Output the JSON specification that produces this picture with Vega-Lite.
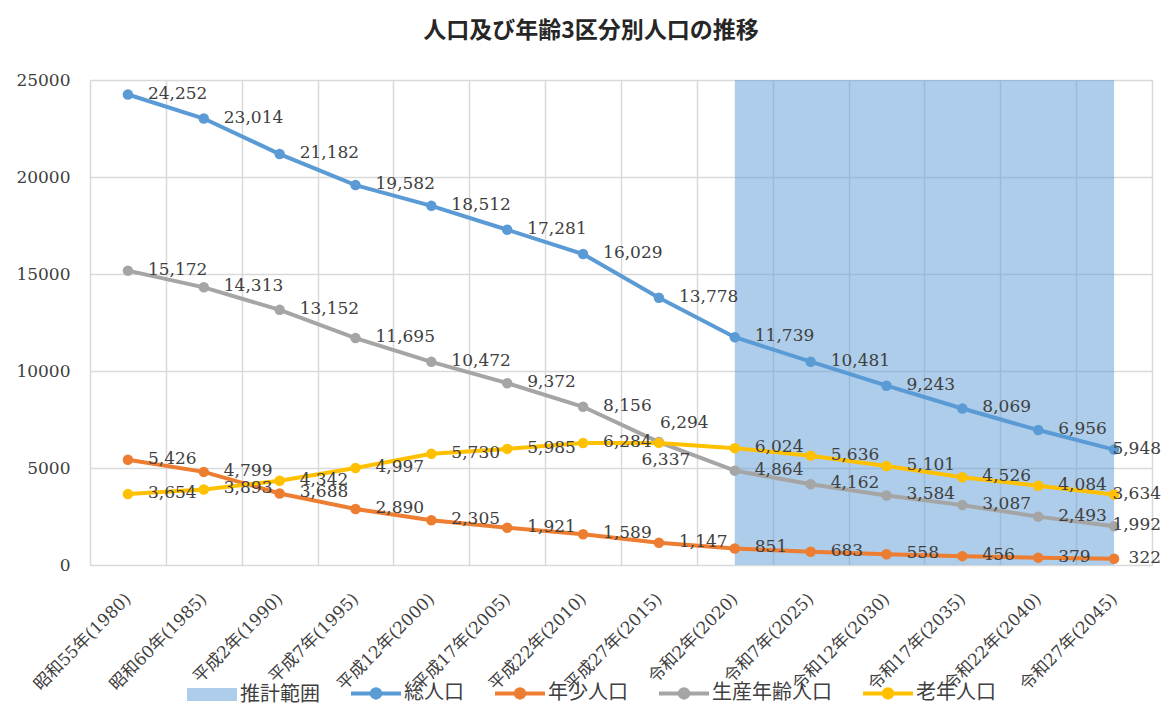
{
  "$schema": "https://vega.github.io/schema/vega-lite/v6.json",
  "width": 1062,
  "height": 485,
  "autosize": {"type": "none"},
  "padding": {"left": 90, "top": 80, "right": 24, "bottom": 157},
  "background": "white",
  "title": {"text": "人口及び年齢3区分別人口の推移", "font": "Noto Sans CJK JP", "fontSize": 23, "fontWeight": "bold", "color": "#262626", "anchor": "middle", "dx": -30, "offset": 28},
  "config": {"view": {"stroke": null}},
  "datasets": {
    "range": [
      {"year": "令和2年(2020)", "series": "推計範囲", "value": 25000},
      {"year": "令和27年(2045)", "series": "推計範囲", "value": 25000}
    ],
    "pop": [
      {"year": "昭和55年(1980)", "series": "総人口", "value": 24252},
      {"year": "昭和60年(1985)", "series": "総人口", "value": 23014},
      {"year": "平成2年(1990)", "series": "総人口", "value": 21182},
      {"year": "平成7年(1995)", "series": "総人口", "value": 19582},
      {"year": "平成12年(2000)", "series": "総人口", "value": 18512},
      {"year": "平成17年(2005)", "series": "総人口", "value": 17281},
      {"year": "平成22年(2010)", "series": "総人口", "value": 16029},
      {"year": "平成27年(2015)", "series": "総人口", "value": 13778},
      {"year": "令和2年(2020)", "series": "総人口", "value": 11739},
      {"year": "令和7年(2025)", "series": "総人口", "value": 10481},
      {"year": "令和12年(2030)", "series": "総人口", "value": 9243},
      {"year": "令和17年(2035)", "series": "総人口", "value": 8069},
      {"year": "令和22年(2040)", "series": "総人口", "value": 6956},
      {"year": "令和27年(2045)", "series": "総人口", "value": 5948},
      {"year": "昭和55年(1980)", "series": "年少人口", "value": 5426},
      {"year": "昭和60年(1985)", "series": "年少人口", "value": 4799},
      {"year": "平成2年(1990)", "series": "年少人口", "value": 3688},
      {"year": "平成7年(1995)", "series": "年少人口", "value": 2890},
      {"year": "平成12年(2000)", "series": "年少人口", "value": 2305},
      {"year": "平成17年(2005)", "series": "年少人口", "value": 1921},
      {"year": "平成22年(2010)", "series": "年少人口", "value": 1589},
      {"year": "平成27年(2015)", "series": "年少人口", "value": 1147},
      {"year": "令和2年(2020)", "series": "年少人口", "value": 851},
      {"year": "令和7年(2025)", "series": "年少人口", "value": 683},
      {"year": "令和12年(2030)", "series": "年少人口", "value": 558},
      {"year": "令和17年(2035)", "series": "年少人口", "value": 456},
      {"year": "令和22年(2040)", "series": "年少人口", "value": 379},
      {"year": "令和27年(2045)", "series": "年少人口", "value": 322},
      {"year": "昭和55年(1980)", "series": "生産年齢人口", "value": 15172},
      {"year": "昭和60年(1985)", "series": "生産年齢人口", "value": 14313},
      {"year": "平成2年(1990)", "series": "生産年齢人口", "value": 13152},
      {"year": "平成7年(1995)", "series": "生産年齢人口", "value": 11695},
      {"year": "平成12年(2000)", "series": "生産年齢人口", "value": 10472},
      {"year": "平成17年(2005)", "series": "生産年齢人口", "value": 9372},
      {"year": "平成22年(2010)", "series": "生産年齢人口", "value": 8156},
      {"year": "平成27年(2015)", "series": "生産年齢人口", "value": 6337},
      {"year": "令和2年(2020)", "series": "生産年齢人口", "value": 4864},
      {"year": "令和7年(2025)", "series": "生産年齢人口", "value": 4162},
      {"year": "令和12年(2030)", "series": "生産年齢人口", "value": 3584},
      {"year": "令和17年(2035)", "series": "生産年齢人口", "value": 3087},
      {"year": "令和22年(2040)", "series": "生産年齢人口", "value": 2493},
      {"year": "令和27年(2045)", "series": "生産年齢人口", "value": 1992},
      {"year": "昭和55年(1980)", "series": "老年人口", "value": 3654},
      {"year": "昭和60年(1985)", "series": "老年人口", "value": 3893},
      {"year": "平成2年(1990)", "series": "老年人口", "value": 4342},
      {"year": "平成7年(1995)", "series": "老年人口", "value": 4997},
      {"year": "平成12年(2000)", "series": "老年人口", "value": 5730},
      {"year": "平成17年(2005)", "series": "老年人口", "value": 5985},
      {"year": "平成22年(2010)", "series": "老年人口", "value": 6284},
      {"year": "平成27年(2015)", "series": "老年人口", "value": 6294},
      {"year": "令和2年(2020)", "series": "老年人口", "value": 6024},
      {"year": "令和7年(2025)", "series": "老年人口", "value": 5636},
      {"year": "令和12年(2030)", "series": "老年人口", "value": 5101},
      {"year": "令和17年(2035)", "series": "老年人口", "value": 4526},
      {"year": "令和22年(2040)", "series": "老年人口", "value": 4084},
      {"year": "令和27年(2045)", "series": "老年人口", "value": 3634}
    ]
  },
  "encoding": {
    "x": {
      "field": "year",
      "type": "nominal",
      "sort": null,
      "scale": {
        "type": "band",
        "domain": ["昭和55年(1980)", "昭和60年(1985)", "平成2年(1990)", "平成7年(1995)", "平成12年(2000)", "平成17年(2005)", "平成22年(2010)", "平成27年(2015)", "令和2年(2020)", "令和7年(2025)", "令和12年(2030)", "令和17年(2035)", "令和22年(2040)", "令和27年(2045)"],
        "paddingInner": 0,
        "paddingOuter": 0
      },
      "axis": {
        "title": null,
        "labelAngle": -45,
        "labelAlign": "right",
        "labelBaseline": "middle",
        "labelPadding": 31,
        "labelFont": "DejaVu Serif, Noto Sans CJK JP",
        "labelFontSize": 17,
        "labelColor": "#404040",
        "labelOverlap": false,
        "labelLimit": 300,
        "ticks": false,
        "domain": false,
        "grid": true,
        "tickBand": "extent",
        "gridColor": "#d9d9d9",
        "gridWidth": 1.5
      }
    },
    "y": {
      "field": "value",
      "type": "quantitative",
      "scale": {"domain": [0, 25000], "nice": false},
      "axis": {
        "title": null,
        "values": [0, 5000, 10000, 15000, 20000, 25000],
        "format": "d",
        "domain": false,
        "ticks": false,
        "labelPadding": 20,
        "labelFont": "DejaVu Serif",
        "labelFontSize": 17,
        "labelColor": "#404040",
        "gridColor": "#d9d9d9",
        "gridWidth": 1.5
      }
    }
  },
  "layer": [
    {
      "data": {"name": "range"},
      "mark": {"type": "area", "opacity": 0.5},
      "encoding": {
        "y": {"field": "value", "type": "quantitative", "stack": null},
        "color": {
          "field": "series",
          "type": "nominal",
          "scale": {"domain": ["推計範囲", "総人口", "年少人口", "生産年齢人口", "老年人口"], "range": ["#5B9BD5", "#5B9BD5", "#ED7D31", "#A5A5A5", "#FFC000"]},
          "legend": {
            "orient": "none",
            "legendX": 112,
            "legendY": 603,
            "direction": "horizontal",
            "columns": 5,
            "title": null,
            "symbolSize": 2500,
            "symbolOpacity": 1,
            "labelFont": "Noto Sans CJK JP",
            "labelFontSize": 20,
            "labelColor": "#404040",
            "labelOffset": 18,
            "columnPadding": 23,
            "labelLimit": 300,
            "encode": {
              "symbols": {
                "update": {
                  "shape": {"signal": "datum.value === '推計範囲' ? 'M-1,-0.26H1V0.26H-1Z' : 'M-1,0H1M0.17,0A0.17,0.17 0 1,1 -0.17,0A0.17,0.17 0 1,1 0.17,0Z'"},
                  "fill": {"scale": "color", "field": "value"},
                  "stroke": {"scale": "color", "field": "value"},
                  "strokeWidth": {"signal": "datum.value === '推計範囲' ? 0 : 4"},
                  "opacity": {"signal": "datum.value === '推計範囲' ? 0.5 : 1"},
                  "fillOpacity": {"value": 1},
                  "strokeOpacity": {"value": 1}
                }
              }
            }
          }
        }
      }
    },
    {
      "data": {"name": "pop"},
      "mark": {"type": "line", "strokeWidth": 4, "point": {"filled": true, "size": 110, "opacity": 1}},
      "encoding": {
        "color": {
          "field": "series",
          "type": "nominal",
          "legend": {
            "orient": "none",
            "legendX": 112,
            "legendY": 603,
            "direction": "horizontal",
            "columns": 5,
            "title": null,
            "symbolSize": 2500,
            "symbolOpacity": 1,
            "labelFont": "Noto Sans CJK JP",
            "labelFontSize": 20,
            "labelColor": "#404040",
            "labelOffset": 18,
            "columnPadding": 23,
            "labelLimit": 300,
            "encode": {
              "symbols": {
                "update": {
                  "shape": {"signal": "datum.value === '推計範囲' ? 'M-1,-0.26H1V0.26H-1Z' : 'M-1,0H1M0.17,0A0.17,0.17 0 1,1 -0.17,0A0.17,0.17 0 1,1 0.17,0Z'"},
                  "fill": {"scale": "color", "field": "value"},
                  "stroke": {"scale": "color", "field": "value"},
                  "strokeWidth": {"signal": "datum.value === '推計範囲' ? 0 : 4"},
                  "opacity": {"signal": "datum.value === '推計範囲' ? 0.5 : 1"},
                  "fillOpacity": {"value": 1},
                  "strokeOpacity": {"value": 1}
                }
              }
            }
          }
        }
      }
    },
    {
      "data": {"name": "pop"},
      "transform": [{"filter": "datum.year !== '令和27年(2045)' && !(datum.year === '平成27年(2015)' && (datum.series === '生産年齢人口' || datum.series === '老年人口'))"}],
      "mark": {"type": "text", "align": "left", "baseline": "middle", "dx": 20, "dy": -1, "font": "DejaVu Serif", "fontSize": 17, "color": "#404040"},
      "encoding": {"text": {"field": "value", "type": "quantitative", "format": ","}}
    },
    {
      "data": {"name": "pop"},
      "transform": [{"filter": "datum.year === '令和27年(2045)'"}],
      "mark": {"type": "text", "align": "right", "baseline": "middle", "dx": 47, "dy": -1, "font": "DejaVu Serif", "fontSize": 17, "color": "#404040"},
      "encoding": {"text": {"field": "value", "type": "quantitative", "format": ","}}
    },
    {
      "data": {"name": "pop"},
      "transform": [{"filter": "datum.year === '平成27年(2015)' && datum.series === '老年人口'"}],
      "mark": {"type": "text", "align": "left", "baseline": "middle", "dx": 1, "dy": -20, "font": "DejaVu Serif", "fontSize": 17, "color": "#404040"},
      "encoding": {"text": {"field": "value", "type": "quantitative", "format": ","}}
    },
    {
      "data": {"name": "pop"},
      "transform": [{"filter": "datum.year === '平成27年(2015)' && datum.series === '生産年齢人口'"}],
      "mark": {"type": "text", "align": "center", "baseline": "middle", "dx": 7, "dy": 18, "font": "DejaVu Serif", "fontSize": 17, "color": "#404040"},
      "encoding": {"text": {"field": "value", "type": "quantitative", "format": ","}}
    }
  ]
}
